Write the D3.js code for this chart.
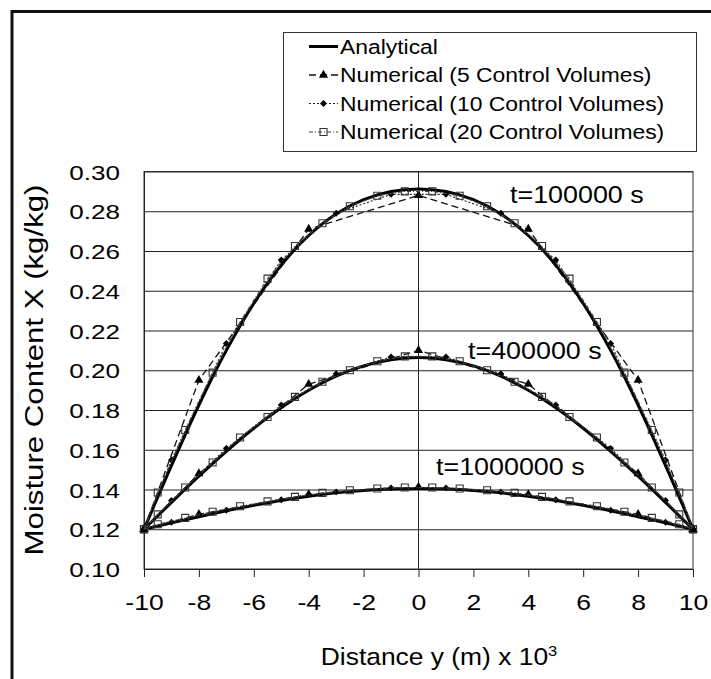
<!DOCTYPE html>
<html>
<head>
<meta charset="utf-8">
<script src="https://cdn.jsdelivr.net/npm/d3@7"></script>
<style>
body { margin: 0; background: #fff; }
text { font-family: "Liberation Sans", Arial, sans-serif; fill: #000; }
</style>
</head>
<body>
<svg id="chart" width="711" height="679"></svg>
<script>
// tick labels
var xTicks = [-10, -8, -6, -4, -2, 0, 2, 4, 6, 8, 10];
var yTicks = [0.10, 0.12, 0.14, 0.16, 0.18, 0.20, 0.22, 0.24, 0.26, 0.28, 0.30];

// analytical solution, read every 1 (x 10^-3 m)
var xAnalytical = [-10, -9, -8, -7, -6, -5, -4, -3, -2, -1, 0, 1, 2, 3, 4, 5, 6, 7, 8, 9, 10];
var analytical1e5 = [0.1200, 0.1520, 0.1825, 0.2100, 0.2336, 0.2529, 0.2678, 0.2786, 0.2858, 0.2899, 0.2912,
                     0.2899, 0.2858, 0.2786, 0.2678, 0.2529, 0.2336, 0.2100, 0.1825, 0.1520, 0.1200];
var analytical4e5 = [0.1200, 0.1335, 0.1467, 0.1592, 0.1708, 0.1811, 0.1899, 0.1970, 0.2022, 0.2053, 0.2064,
                     0.2053, 0.2022, 0.1970, 0.1899, 0.1811, 0.1708, 0.1592, 0.1467, 0.1335, 0.1200];
var analytical1e6 = [0.1200, 0.1232, 0.1263, 0.1293, 0.1320, 0.1345, 0.1366, 0.1383, 0.1395, 0.1402, 0.1405,
                     0.1402, 0.1395, 0.1383, 0.1366, 0.1345, 0.1320, 0.1293, 0.1263, 0.1232, 0.1200];

// numerical, 5 control volumes
var x5 = [-10, -8, -4, 0, 4, 8, 10];
var cv5_1e5 = [0.120, 0.195, 0.271, 0.288, 0.271, 0.195, 0.120];
var cv5_4e5 = [0.120, 0.148, 0.193, 0.210, 0.193, 0.148, 0.120];
var cv5_1e6 = [0.120, 0.1275, 0.1375, 0.1412, 0.1375, 0.1275, 0.120];

// numerical, 10 control volumes
var x10 = [-10, -9, -7, -5, -3, -1, 1, 3, 5, 7, 9, 10];
var cv10_1e5 = [0.120, 0.1548, 0.2135, 0.2555, 0.2790, 0.2885, 0.2885, 0.2790, 0.2555, 0.2135, 0.1548, 0.120];
var cv10_4e5 = [0.120, 0.1345, 0.1607, 0.1825, 0.1983, 0.2067, 0.2067, 0.1983, 0.1825, 0.1607, 0.1345, 0.120];
var cv10_1e6 = [0.120, 0.1235, 0.1296, 0.1348, 0.1388, 0.1408, 0.1408, 0.1388, 0.1348, 0.1296, 0.1235, 0.120];

// numerical, 20 control volumes
var x20 = [-10, -9.5, -8.5, -7.5, -6.5, -5.5, -4.5, -3.5, -2.5, -1.5, -0.5,
           0.5, 1.5, 2.5, 3.5, 4.5, 5.5, 6.5, 7.5, 8.5, 9.5, 10];
var cv20_1e5 = [0.120, 0.1385, 0.1699, 0.1988, 0.2243, 0.2461, 0.2625, 0.2740, 0.2825, 0.2878, 0.2900,
                0.2900, 0.2878, 0.2825, 0.2740, 0.2625, 0.2461, 0.2243, 0.1988, 0.1699, 0.1385, 0.120];
var cv20_4e5 = [0.120, 0.1275, 0.1410, 0.1536, 0.1662, 0.1765, 0.1866, 0.1942, 0.2000, 0.2045, 0.2070,
                0.2070, 0.2045, 0.2000, 0.1942, 0.1866, 0.1765, 0.1662, 0.1536, 0.1410, 0.1275, 0.120];
var cv20_1e6 = [0.120, 0.1225, 0.1257, 0.1288, 0.1316, 0.1340, 0.1363, 0.1383, 0.1396, 0.1405, 0.1410,
                0.1410, 0.1405, 0.1396, 0.1383, 0.1363, 0.1340, 0.1316, 0.1288, 0.1257, 0.1225, 0.120];

var legendNames = ['Analytical', 'Numerical (5 Control Volumes)', 'Numerical (10 Control Volumes)', 'Numerical (20 Control Volumes)'];
var timeLabels = ['t=100000 s', 't=400000 s', 't=1000000 s'];
var timeLabelPos = [[510, 203], [468, 359], [436, 475]];

var svg = d3.select('#chart');
var plotLeft = 144, plotRight = 693, plotTop = 171.5, plotBottom = 569;

var x = d3.scaleLinear().domain([-10, 10]).range([plotLeft, plotRight]);
var y = d3.scaleLinear().domain([0.10, 0.30]).range([plotBottom, plotTop]);

// outer frame, runs off the right and bottom of the picture
svg.append('rect')
  .attr('x', 12).attr('y', 11.5)
  .attr('width', 800).attr('height', 800)
  .attr('fill', 'none').attr('stroke', '#111').attr('stroke-width', 3);

// horizontal grid
var grid = svg.append('g').attr('transform', 'translate(' + plotLeft + ',0)')
  .call(d3.axisLeft(y).tickValues(yTicks).tickSize(-(plotRight - plotLeft)).tickFormat(''));
grid.select('.domain').remove();
grid.selectAll('line').attr('stroke', '#222').attr('stroke-width', 1);

// plot border and the zero line
svg.append('rect')
  .attr('x', plotLeft).attr('y', plotTop)
  .attr('width', plotRight - plotLeft).attr('height', plotBottom - plotTop)
  .attr('fill', 'none').attr('stroke', '#333').attr('stroke-width', 1);
svg.append('line')
  .attr('x1', x(0)).attr('x2', x(0)).attr('y1', plotTop).attr('y2', plotBottom)
  .attr('stroke', '#222').attr('stroke-width', 1);

// x axis
var xAxis = svg.append('g').attr('transform', 'translate(0,' + plotBottom + ')')
  .call(d3.axisBottom(x).tickValues(xTicks).tickSize(8).tickFormat(function(d) { return String(d); }));
xAxis.select('.domain').attr('stroke', '#222');
xAxis.selectAll('line').attr('stroke', '#222');
xAxis.selectAll('text')
  .attr('y', 41).attr('dy', 0)
  .attr('font-size', 22.5)
  .attr('transform', 'scale(1.18,1)');

// y axis labels
var yAxis = svg.append('g').attr('transform', 'translate(' + plotLeft + ',0)')
  .call(d3.axisLeft(y).tickValues(yTicks).tickSize(0).tickFormat(d3.format('.2f')));
yAxis.select('.domain').attr('stroke', '#222');
yAxis.selectAll('text')
  .attr('x', 0).attr('dy', '0.36em')
  .attr('font-size', 21)
  .attr('transform', 'translate(-24,0) scale(1.24,1)');

// axis titles
svg.append('text')
  .attr('transform', 'translate(43,370) rotate(-90) scale(1.2,1)')
  .attr('text-anchor', 'middle').attr('font-size', 26)
  .text('Moisture Content X (kg/kg)');

var xTitle = svg.append('text')
  .attr('transform', 'translate(439,665) scale(1.1,1)')
  .attr('text-anchor', 'middle').attr('font-size', 24);
xTitle.append('tspan').text('Distance y (m) x 10');
xTitle.append('tspan').attr('font-size', 15).attr('dy', -9).text('3');

// series
var styles = [
  { stroke: '#000', width: 3, dash: null, marker: null },
  { stroke: '#111', width: 1.3, dash: '7,4', marker: 'triangle' },
  { stroke: '#222', width: 1.1, dash: '2,2', marker: 'diamond' },
  { stroke: '#444', width: 1.1, dash: '4,2,1,2', marker: 'square' }
];

function markerPath(kind) {
  if (kind === 'triangle') return d3.symbol().type(d3.symbolTriangle).size(36)();
  if (kind === 'diamond') return d3.symbol().type(d3.symbolSquare).size(24)();
  return d3.symbol().type(d3.symbolSquare).size(49)();
}

function drawMarker(g, kind, px, py, st) {
  var m = g.append('path').attr('d', markerPath(kind));
  if (kind === 'diamond') m.attr('transform', 'translate(' + px + ',' + py + ') rotate(45)');
  else m.attr('transform', 'translate(' + px + ',' + py + ')');
  if (kind === 'square') m.attr('fill', 'none').attr('stroke', '#333').attr('stroke-width', 1.1);
  else m.attr('fill', '#000');
}

function drawSeries(xs, ys, st, smooth) {
  var pts = xs.map(function(d, i) { return [d, ys[i]]; });
  var line = d3.line()
    .x(function(d) { return x(d[0]); })
    .y(function(d) { return y(d[1]); });
  if (smooth) line.curve(d3.curveCatmullRom.alpha(0.5));
  var g = svg.append('g');
  g.append('path').attr('d', line(pts))
    .attr('fill', 'none').attr('stroke', st.stroke)
    .attr('stroke-width', st.width).attr('stroke-dasharray', st.dash);
  if (st.marker) {
    pts.forEach(function(p) { drawMarker(g, st.marker, x(p[0]), y(p[1]), st); });
  }
}

[analytical1e5, analytical4e5, analytical1e6].forEach(function(v) { drawSeries(xAnalytical, v, styles[0], true); });
[cv5_1e5, cv5_4e5, cv5_1e6].forEach(function(v) { drawSeries(x5, v, styles[1], false); });
[cv10_1e5, cv10_4e5, cv10_1e6].forEach(function(v) { drawSeries(x10, v, styles[2], false); });
[cv20_1e5, cv20_4e5, cv20_1e6].forEach(function(v) { drawSeries(x20, v, styles[3], false); });

// time labels
timeLabels.forEach(function(t, i) {
  svg.append('text')
    .attr('transform', 'translate(' + timeLabelPos[i][0] + ',' + timeLabelPos[i][1] + ') scale(1.12,1)')
    .attr('font-size', 24)
    .text(t);
});

// legend
var legend = svg.append('g');
legend.append('rect')
  .attr('x', 283.5).attr('y', 32.5).attr('width', 413).attr('height', 119)
  .attr('fill', '#fff').attr('stroke', '#333').attr('stroke-width', 1);
legendNames.forEach(function(name, i) {
  var base = 53.5 + i * 28.5;
  var st = styles[i];
  legend.append('line')
    .attr('x1', 309).attr('x2', 338).attr('y1', base - 7).attr('y2', base - 7)
    .attr('stroke', st.stroke).attr('stroke-width', st.width)
    .attr('stroke-dasharray', st.dash);
  if (st.marker) drawMarker(legend, st.marker, 323.5, base - 7, st);
  legend.append('text')
    .attr('transform', 'translate(340,' + base + ') scale(1.09,1)')
    .attr('font-size', 21)
    .text(name);
});
</script>
</body>
</html>
